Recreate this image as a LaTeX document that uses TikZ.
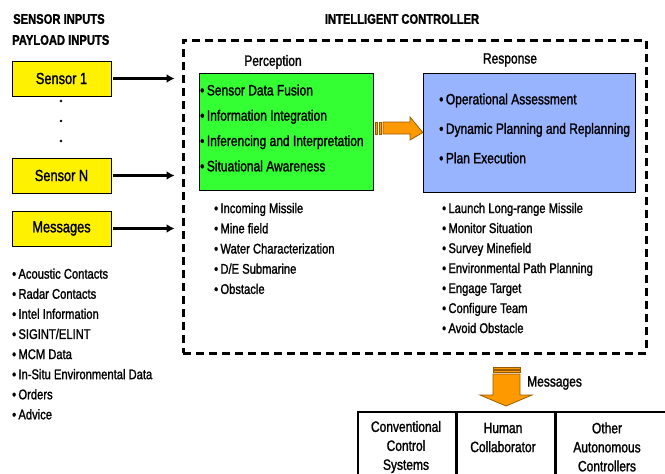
\documentclass[tikz,border=0pt]{standalone}
\usepackage{fontspec}
\setmainfont{Liberation Sans}[FakeStretch=0.8,FakeBold=1.4]
\usetikzlibrary{arrows.meta}
\tikzset{>={Latex[width=9pt,length=8pt]}}
\definecolor{percgreen}{RGB}{51,255,51}
\definecolor{respblue}{RGB}{153,180,255}
\definecolor{arrorange}{RGB}{255,153,0}

\begin{document}
\begin{tikzpicture}[x=1pt,y=-1pt,
  hdr/.style={inner sep=0pt,font=\fontsize{14}{16}\selectfont\bfseries},
  lbl/.style={inner sep=0pt,font=\fontsize{15}{17}\selectfont},
  inbox/.style={draw,fill=yellow,minimum width=99pt,minimum height=35pt,inner sep=0pt,font=\fontsize{16}{18}\selectfont},
  items/.style={inner sep=0pt,align=left,anchor=west},
  cell/.style={draw,line width=1.5pt,minimum height=72pt,anchor=north west,inner sep=0pt},
  feed/.style={->,line width=3pt,shorten <=2pt,shorten >=7pt},
  blockarr/.style={fill=arrorange,draw=arrorange!60!black,line width=0.8pt}]
  \useasboundingbox (0,0) rectangle (665,474);

  % inputs
  \node[hdr,anchor=west] (sensorhdr) at (13,19) {SENSOR INPUTS};
  \node[hdr,anchor=west] (payloadhdr) at (12,40) {PAYLOAD INPUTS};
  \node[inbox] (sensorA) at (61.5,78.5) {Sensor 1};
  \node[inbox] (sensorN) at (61.5,175.5) {Sensor N};
  \node[inbox] (inmsg) at (61.5,228.5) {Messages};
  \foreach \y in {101,121,141}
    \fill (61,\y) circle (1.3pt);
  \node[items,font=\fontsize{14}{20.1}\selectfont] (msglist) at (12,344) {%
    \textbullet\,Acoustic Contacts\\ \textbullet\,Radar Contacts\\
    \textbullet\,Intel Information\\ \textbullet\,SIGINT/ELINT\\
    \textbullet\,MCM Data\\ \textbullet\,In-Situ Environmental Data\\
    \textbullet\,Orders\\ \textbullet\,Advice};

  % controller
  \node[hdr] (ctrlhdr) at (402,19) {INTELLIGENT CONTROLLER};
  \node[draw,line width=3pt,dash pattern=on 8pt off 5pt,minimum width=463pt,minimum height=313pt] (ctrl) at (414.5,196.5) {};

  \draw[feed] (sensorA.east) -- (sensorA.east -| ctrl.west);
  \draw[feed] (sensorN.east) -- (sensorN.east -| ctrl.west);
  \draw[feed] (inmsg.east) -- (inmsg.east -| ctrl.west);

  \node[lbl] (perchdr) at (273,62) {Perception};
  \node[draw,fill=percgreen,minimum width=174pt,minimum height=117pt] (perc) at (286,131.5) {};
  \node[items,font=\fontsize{15}{25.3}\selectfont] (percitems) at (200,128) {%
    \textbullet\,Sensor Data Fusion\\ \textbullet\,Information Integration\\
    \textbullet\,Inferencing and Interpretation\\ \textbullet\,Situational Awareness};

  \node[lbl] (resphdr) at (510,60) {Response};
  \node[draw,fill=respblue,minimum width=212pt,minimum height=119pt] (resp) at (529,132.5) {};
  \node[items,font=\fontsize{15}{29.5}\selectfont] (respitems) at (439,128.5) {%
    \textbullet\,Operational Assessment\\ \textbullet\,Dynamic Planning and Replanning\\
    \textbullet\,Plan Execution};

  % perception to response
  \fill[blockarr] (375,122) rectangle (377,134) (379,122) rectangle (381,134);
  \filldraw[blockarr] (383,122) -- (410,122) -- (410,117) -- (resp.west) -- (410,140) -- (410,134) -- (383,134) -- cycle;

  \node[items,font=\fontsize{14}{20.2}\selectfont] (threats) at (214,248.5) {%
    \textbullet\,Incoming Missile\\ \textbullet\,Mine field\\
    \textbullet\,Water Characterization\\ \textbullet\,D/E Submarine\\
    \textbullet\,Obstacle};
  \node[items,font=\fontsize{14}{20}\selectfont] (actions) at (442,268) {%
    \textbullet\,Launch Long-range Missile\\ \textbullet\,Monitor Situation\\
    \textbullet\,Survey Minefield\\ \textbullet\,Environmental Path Planning\\
    \textbullet\,Engage Target\\ \textbullet\,Configure Team\\
    \textbullet\,Avoid Obstacle};

  % outputs
  \fill[blockarr] (493,367) rectangle (520,369) (493,370) rectangle (520,372);
  \filldraw[blockarr] (493,374) -- (520,374) -- (520,395) -- (532,395) -- (506,406) -- (480,395) -- (493,395) -- cycle;
  \node[lbl,anchor=west] (outmsg) at (527,383) {Messages};

  \node[cell,minimum width=98pt] (conv) at (357,411) {};
  \node[cell,minimum width=97pt] (human) at (conv.north east) {};
  \node[cell,minimum width=111pt] (other) at (human.north east) {};
  \node[lbl,align=center,font=\fontsize{15}{19}\selectfont] (convtxt) at (406,447) {Conventional\\Control\\Systems};
  \node[lbl,align=center,font=\fontsize{15}{19}\selectfont] (humantxt) at (503,437.5) {Human\\Collaborator};
  \node[lbl,align=center,font=\fontsize{15}{19}\selectfont] (othertxt) at (607,447) {Other\\Autonomous\\Controllers};
\end{tikzpicture}
\end{document}
